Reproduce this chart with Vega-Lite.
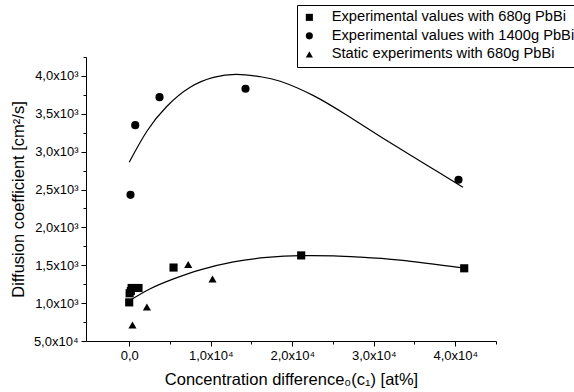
{
  "$schema": "https://vega.github.io/schema/vega-lite/v6.json",
  "width": 410,
  "height": 284,
  "autosize": {"type": "none"},
  "padding": {"left": 86, "top": 57, "right": 78, "bottom": 51},
  "background": "white",
  "config": {
    "view": {"stroke": null},
    "font": "Liberation Sans",
    "axis": {
      "grid": false,
      "domainColor": "black",
      "domainWidth": 1,
      "tickColor": "black",
      "tickWidth": 1,
      "labelColor": "black",
      "titleColor": "black",
      "labelFont": "Liberation Sans",
      "titleFont": "Liberation Sans",
      "labelFontSize": 13,
      "titleFontSize": 16,
      "titleFontWeight": "normal",
      "labelOverlap": false,
      "labelFlush": false
    }
  },
  "datasets": {
    "points": [
      {"c": 0.016, "D": 2.43, "series": "Experimental values with 1400g PbBi"},
      {"c": 0.074, "D": 3.35, "series": "Experimental values with 1400g PbBi"},
      {"c": 0.372, "D": 3.72, "series": "Experimental values with 1400g PbBi"},
      {"c": 1.427, "D": 3.83, "series": "Experimental values with 1400g PbBi"},
      {"c": 4.04, "D": 2.63, "series": "Experimental values with 1400g PbBi"},
      {"c": 0.0, "D": 1.01, "series": "Experimental values with 680g PbBi"},
      {"c": 0.005, "D": 1.13, "series": "Experimental values with 680g PbBi"},
      {"c": 0.02, "D": 1.16, "series": "Experimental values with 680g PbBi"},
      {"c": 0.03, "D": 1.2, "series": "Experimental values with 680g PbBi"},
      {"c": 0.114, "D": 1.2, "series": "Experimental values with 680g PbBi"},
      {"c": 0.544, "D": 1.47, "series": "Experimental values with 680g PbBi"},
      {"c": 2.11, "D": 1.63, "series": "Experimental values with 680g PbBi"},
      {"c": 4.11, "D": 1.46, "series": "Experimental values with 680g PbBi"},
      {"c": 0.04, "D": 0.71, "series": "Static experiments with 680g PbBi"},
      {"c": 0.217, "D": 0.95, "series": "Static experiments with 680g PbBi"},
      {"c": 0.724, "D": 1.51, "series": "Static experiments with 680g PbBi"},
      {"c": 1.022, "D": 1.32, "series": "Static experiments with 680g PbBi"}
    ],
    "curves": [
      {"c": 0.0, "D": 2.86, "curve": "upper"},
      {"c": 0.217, "D": 3.27, "curve": "upper"},
      {"c": 0.463, "D": 3.6, "curve": "upper"},
      {"c": 0.748, "D": 3.85, "curve": "upper"},
      {"c": 1.034, "D": 3.98, "curve": "upper"},
      {"c": 1.321, "D": 4.02, "curve": "upper"},
      {"c": 1.607, "D": 3.99, "curve": "upper"},
      {"c": 1.853, "D": 3.93, "curve": "upper"},
      {"c": 2.261, "D": 3.74, "curve": "upper"},
      {"c": 2.671, "D": 3.48, "curve": "upper"},
      {"c": 3.08, "D": 3.2, "curve": "upper"},
      {"c": 3.488, "D": 2.93, "curve": "upper"},
      {"c": 3.775, "D": 2.74, "curve": "upper"},
      {"c": 4.094, "D": 2.53, "curve": "upper"},
      {"c": 0.0, "D": 1.03, "curve": "lower"},
      {"c": 0.258, "D": 1.19, "curve": "lower"},
      {"c": 0.544, "D": 1.32, "curve": "lower"},
      {"c": 0.871, "D": 1.44, "curve": "lower"},
      {"c": 1.28, "D": 1.545, "curve": "lower"},
      {"c": 1.69, "D": 1.603, "curve": "lower"},
      {"c": 2.11, "D": 1.627, "curve": "lower"},
      {"c": 2.507, "D": 1.624, "curve": "lower"},
      {"c": 2.834, "D": 1.608, "curve": "lower"},
      {"c": 3.325, "D": 1.568, "curve": "lower"},
      {"c": 4.11, "D": 1.463, "curve": "lower"}
    ]
  },
  "encoding": {
    "x": {
      "field": "c",
      "type": "quantitative",
      "scale": {"domain": [-0.53, 4.5], "nice": false, "zero": false},
      "axis": {
        "values": [0, 0.5, 1, 1.5, 2, 2.5, 3, 3.5, 4, 4.5],
        "labelExpr": "round(datum.value*2)%2==1 ? '' : (datum.value==0 ? '0,0' : replace(format(datum.value,'.1f'),'.',',') + 'x10⁴')",
        "tickSize": {"condition": {"test": "round(datum.value*2)%2==1", "value": 3}, "value": 5},
        "labelPadding": 3,
        "title": "Concentration difference₀(c₁) [at%]",
        "titleFontSize": 16.5,
        "titlePadding": 9
      }
    },
    "y": {
      "field": "D",
      "type": "quantitative",
      "scale": {"domain": [0.5, 4.25], "nice": false, "zero": false},
      "axis": {
        "values": [0.5, 0.75, 1, 1.25, 1.5, 1.75, 2, 2.25, 2.5, 2.75, 3, 3.25, 3.5, 3.75, 4, 4.25],
        "labelExpr": "round(datum.value*4)%2==1 ? '' : (datum.value<0.9 ? '5,0x10⁴' : replace(format(datum.value,'.1f'),'.',',') + 'x10³')",
        "tickSize": {"condition": {"test": "round(datum.value*4)%2==1", "value": 3}, "value": 5},
        "labelPadding": 3,
        "title": "Diffusion coefficient [cm²/s]",
        "titleFontSize": 16.5,
        "titlePadding": 7
      }
    }
  },
  "layer": [
    {
      "data": {"name": "curves"},
      "mark": {"type": "line", "interpolate": "natural", "color": "black", "strokeWidth": 1.2},
      "encoding": {"detail": {"field": "curve", "type": "nominal"}}
    },
    {
      "data": {"name": "points"},
      "mark": {"type": "point", "filled": true, "color": "black", "opacity": 1, "size": 66},
      "encoding": {
        "shape": {
          "field": "series",
          "type": "nominal",
          "scale": {
            "domain": ["Experimental values with 680g PbBi", "Experimental values with 1400g PbBi", "Static experiments with 680g PbBi"],
            "range": ["square", "circle", "triangle-up"]
          },
          "legend": {
            "orient": "none",
            "legendX": 211,
            "legendY": -52,
            "title": null,
            "strokeColor": "black",
            "fillColor": "white",
            "padding": 5,
            "labelFontSize": 14.7,
            "labelFont": "Liberation Sans",
            "labelColor": "black",
            "labelLimit": 400,
            "symbolSize": 50,
            "symbolFillColor": "black",
            "symbolStrokeColor": "black",
            "rowPadding": 2.5,
            "labelOffset": 15
          }
        }
      }
    }
  ]
}
